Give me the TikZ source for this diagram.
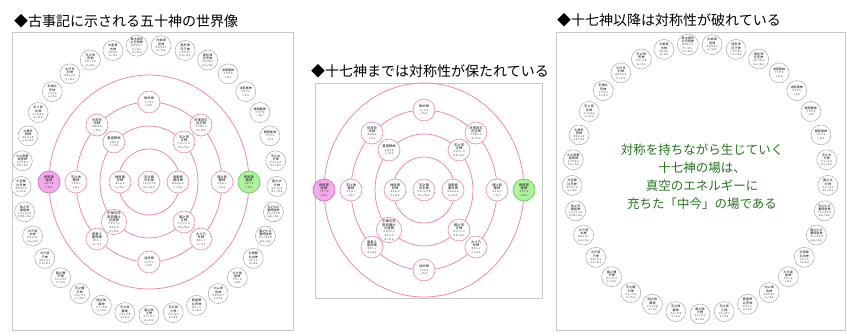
\documentclass[tikz,border=0pt]{standalone}
\usepackage{fontspec}
\setmainfont{Noto Sans CJK JP}
\usetikzlibrary{calc}
\XeTeXlinebreaklocale "ja"
\XeTeXlinebreakskip=0pt plus 0.5pt
\definecolor{ringc}{RGB}{240,140,162}
\definecolor{kamic}{RGB}{236,150,172}
\definecolor{framec}{RGB}{200,200,200}
\definecolor{outc}{RGB}{170,170,170}
\definecolor{pinkf}{RGB}{243,172,234}
\definecolor{pinkd}{RGB}{214,110,200}
\definecolor{greenf}{RGB}{176,240,160}
\definecolor{greend}{RGB}{110,200,100}
\definecolor{greentxt}{RGB}{38,118,30}
\newcommand\ky[2]{#1\\[-0.4pt]\fontsize{2.2}{2.5}\selectfont #2}
\tikzset{
  ringline/.style={draw=ringc, line width=0.8pt},
  panelframe/.style={draw=framec, line width=0.8pt},
  kami/.style={circle, draw=kamic, line width=0.7pt, fill=white, minimum size=22pt, inner sep=0pt,
    text width=15pt, align=center, font=\fontsize{3.2}{3.6}\selectfont},
  outerkami/.style={circle, draw=outc, line width=0.5pt, fill=white, minimum size=20pt, inner sep=0pt,
    text width=14pt, align=center, font=\fontsize{3}{3.4}\selectfont},
  izanagi/.style={kami, fill=pinkf, draw=pinkd},
  izanami/.style={kami, fill=greenf, draw=greend},
  paneltitle/.style={anchor=west, inner sep=0pt, font=\fontsize{14}{16}\selectfont},
}
\begin{document}
\begin{tikzpicture}[x=1pt,y=-1pt]
\useasboundingbox (0,0) rectangle (847,333);
\fill[white] (0,0) rectangle (847,333);
% frames
\draw[panelframe] (12,32) rectangle (293,330);
\draw[panelframe] (315,83) rectangle (542,298);
\draw[panelframe] (556,32) rectangle (845,330);
% titles
\node[paneltitle] (t1) at (14,21) {◆古事記に示される五十神の世界像};
\node[paneltitle] (t2) at (311,71) {◆十七神までは対称性が保たれている};
\node[paneltitle] (t3) at (557,20) {◆十七神以降は対称性が破れている};
% seventeen gods (panel A and panel B)
\foreach \p/\cx/\cy in {A/149/182, B/424/190}{
  \coordinate (c\p) at (\cx,\cy);
  \draw[ringline] (c\p) ellipse [x radius=31, y radius=33];
  \draw[ringline] (c\p) ellipse [x radius=49, y radius=56];
  \draw[ringline] (c\p) ellipse [x radius=73, y radius=80];
  \draw[ringline] (c\p) ellipse [x radius=100, y radius=107];
  \foreach \nm/\rd/\dx/\dy/\st [count=\k] in {
    天之御中主神/アメノミナカヌシノカミ/0/0/kami,
    神産巣日神/カミムスヒノカミ/-29/0/kami,
    高御産巣日神/タカミムスヒノカミ/29/0/kami,
    豊雲野神/トヨクモノノカミ/-35/-40/kami,
    天之常立神/アメノトコタチノカミ/35/-40/kami,
    宇摩志阿斯訶備比古遅神/ウマシアシカビヒコヂノカミ/-35/40/kami,
    国之常立神/クニノトコタチノカミ/35/40/kami,
    角杙神/ツノグイノカミ/0/-80/kami,
    於母陀流神/オモダルノカミ/-52/-57/kami,
    阿夜訶志古泥神/アヤカシコネノカミ/52/-57/kami,
    宇比地邇神/ウヒヂニノカミ/-73/0/kami,
    須比智邇神/スヒヂニノカミ/73/0/kami,
    意富斗能地神/オホトノヂノカミ/-52/57/kami,
    大斗乃弁神/オホトノベノカミ/52/57/kami,
    活杙神/イクグイノカミ/0/80/kami,
    伊邪那岐神/イザナギノカミ/-100/0/izanagi,
    伊邪那美神/イザナミノカミ/100/0/izanami}{
    \node[\st] (\p k\k) at ($(c\p)+(\dx,\dy)$) {\ky{\nm}{\rd}};
  }
}
% thirty-three outer gods (panel A and panel C)
\coordinate (oA) at (149,180);
\coordinate (oC) at (700,179);
\foreach \nm/\rd [count=\k] in {
  大事忍男神/オホコトオシヲノカミ, 石土毘古神/イハツチビコノカミ, 石巣比売神/イハスヒメノカミ,
  大戸日別神/オホトヒワケノカミ, 天之吹男神/アメノフキヲノカミ, 大屋毘古神/オホヤビコノカミ,
  風木津別之忍男神/カザモツワケノオシヲノカミ, 大綿津見神/オホワタツミノカミ,
  速秋津日子神/ハヤアキツヒコノカミ, 速秋津比売神/ハヤアキツヒメノカミ,
  沫那藝神/アワナギノカミ, 沫那美神/アワナミノカミ, 頬那藝神/ツラナギノカミ, 頬那美神/ツラナミノカミ,
  天之水分神/アメノミクマリノカミ, 国之水分神/クニノミクマリノカミ,
  天之久比奢母智神/アメノクヒザモチノカミ, 国之久比奢母智神/クニノクヒザモチノカミ,
  志那都比古神/シナツヒコノカミ, 久久能智神/ククノチノカミ, 大山津見神/オホヤマツミノカミ,
  鹿屋野比売神/カヤノヒメノカミ, 天之狭土神/アメノサヅチノカミ, 国之狭土神/クニノサヅチノカミ,
  天之狭霧神/アメノサギリノカミ, 国之狭霧神/クニノサギリノカミ, 天之闇戸神/アメノクラドノカミ,
  国之闇戸神/クニノクラドノカミ, 大戸惑子神/オホトマトヒコノカミ, 大戸惑女神/オホトマトヒメノカミ,
  鳥之石楠船神/トリノイハクスブネノカミ, 大宜都比売神/オホゲツヒメノカミ, 火之夜藝速男神/ヒノヤギハヤヲノカミ}{
  \pgfmathsetmacro\ang{90+(7.5-\k)*360/33}
  \node[outerkami] (oA\k) at ($(oA)+({128*cos(\ang)},{-135*sin(\ang)})$) {\ky{\nm}{\rd}};
  \node[outerkami] (oC\k) at ($(oC)+({128*cos(\ang)},{-135*sin(\ang)})$) {\ky{\nm}{\rd}};
}
% message
\node[font=\fontsize{12.5}{18}\selectfont, text=greentxt, align=center] (msg) at (702,177)
  {対称を持ちながら生じていく\\十七神の場は、\\真空のエネルギーに\\充ちた「中今」の場である};
\end{tikzpicture}
\end{document}
